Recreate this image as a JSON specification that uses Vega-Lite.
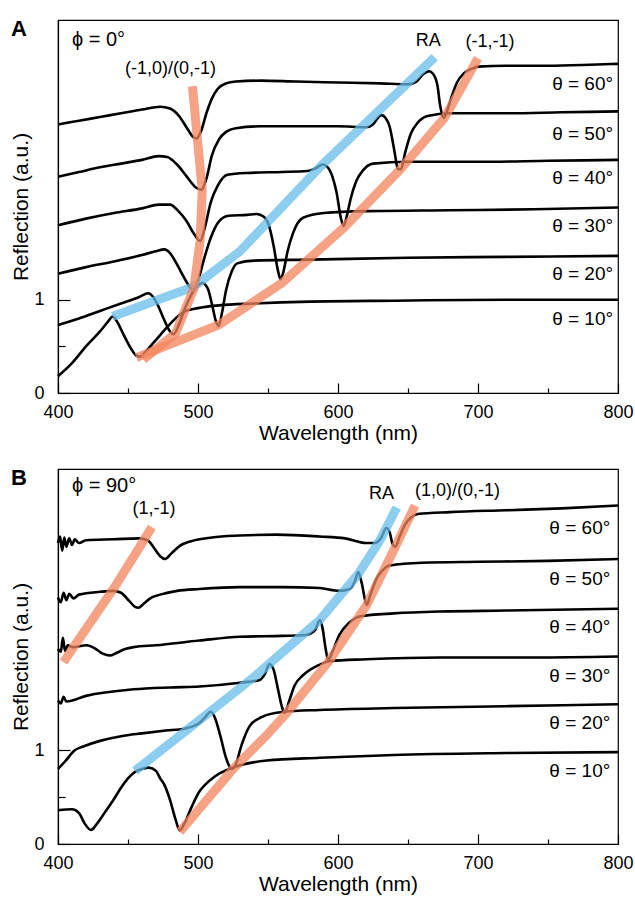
{
  "$schema": "https://vega.github.io/schema/vega-lite/v6.json",
  "padding": {"left": 10, "top": 17, "right": 0, "bottom": 0},
  "spacing": 22,
  "config": {
    "font": "Liberation Sans",
    "view": {"stroke": "black", "strokeWidth": 1.2},
    "axis": {"grid": false, "domainColor": "black", "domainWidth": 1.2, "tickColor": "black", "tickWidth": 1.2, "labelColor": "black", "titleColor": "black", "labelFontSize": 18, "titleFontSize": 21, "titleFontWeight": "normal", "labelFlush": false, "labelFont": "Liberation Sans", "titleFont": "Liberation Sans"},
    "title": {"fontSize": 22, "fontWeight": "bold", "anchor": "start", "frame": "bounds", "color": "black"}
  },
  "datasets": {
    "specA": [
      {"t":60,"w":400,"r":2.88},{"t":60,"w":415,"r":2.92},{"t":60,"w":430,"r":2.96},{"t":60,"w":445,"r":3.0},{"t":60,"w":460,"r":3.04},{"t":60,"w":473,"r":3.07},{"t":60,"w":480,"r":3.05},{"t":60,"w":487,"r":2.96},{"t":60,"w":493,"r":2.82},{"t":60,"w":497,"r":2.74},{"t":60,"w":499,"r":2.73},{"t":60,"w":502,"r":2.8},{"t":60,"w":506,"r":3.0},{"t":60,"w":510,"r":3.16},{"t":60,"w":514,"r":3.26},{"t":60,"w":520,"r":3.32},{"t":60,"w":527,"r":3.34},{"t":60,"w":545,"r":3.35},{"t":60,"w":570,"r":3.34},{"t":60,"w":600,"r":3.33},{"t":60,"w":630,"r":3.32},{"t":60,"w":650,"r":3.31},{"t":60,"w":656,"r":3.34},{"t":60,"w":661,"r":3.42},{"t":60,"w":665,"r":3.45},{"t":60,"w":668,"r":3.42},{"t":60,"w":671,"r":3.3},{"t":60,"w":673,"r":3.08},{"t":60,"w":675.5,"r":2.95},{"t":60,"w":678,"r":3.03},{"t":60,"w":681,"r":3.17},{"t":60,"w":685,"r":3.33},{"t":60,"w":690,"r":3.43},{"t":60,"w":696,"r":3.48},{"t":60,"w":700,"r":3.5},{"t":60,"w":720,"r":3.51},{"t":60,"w":750,"r":3.51},{"t":60,"w":780,"r":3.52},{"t":60,"w":800,"r":3.53},
      {"t":50,"w":400,"r":2.32},{"t":50,"w":415,"r":2.37},{"t":50,"w":430,"r":2.42},{"t":50,"w":445,"r":2.46},{"t":50,"w":460,"r":2.5},{"t":50,"w":472,"r":2.54},{"t":50,"w":478,"r":2.53},{"t":50,"w":485,"r":2.45},{"t":50,"w":492,"r":2.32},{"t":50,"w":498,"r":2.21},{"t":50,"w":502.5,"r":2.18},{"t":50,"w":506,"r":2.3},{"t":50,"w":510,"r":2.55},{"t":50,"w":515,"r":2.72},{"t":50,"w":520,"r":2.8},{"t":50,"w":527,"r":2.84},{"t":50,"w":545,"r":2.86},{"t":50,"w":575,"r":2.86},{"t":50,"w":600,"r":2.86},{"t":50,"w":620,"r":2.85},{"t":50,"w":625,"r":2.88},{"t":50,"w":629,"r":2.96},{"t":50,"w":631,"r":2.98},{"t":50,"w":634,"r":2.95},{"t":50,"w":637,"r":2.85},{"t":50,"w":640,"r":2.62},{"t":50,"w":643,"r":2.4},{"t":50,"w":645,"r":2.4},{"t":50,"w":648,"r":2.58},{"t":50,"w":652,"r":2.78},{"t":50,"w":657,"r":2.9},{"t":50,"w":664,"r":2.97},{"t":50,"w":680,"r":3.0},{"t":50,"w":720,"r":3.0},{"t":50,"w":760,"r":3.01},{"t":50,"w":800,"r":3.02},
      {"t":40,"w":400,"r":1.8},{"t":40,"w":420,"r":1.87},{"t":40,"w":440,"r":1.93},{"t":40,"w":460,"r":1.98},{"t":40,"w":472,"r":2.02},{"t":40,"w":480,"r":2.02},{"t":40,"w":486,"r":1.95},{"t":40,"w":492,"r":1.84},{"t":40,"w":497,"r":1.71},{"t":40,"w":501.5,"r":1.63},{"t":40,"w":505,"r":1.78},{"t":40,"w":509,"r":2.04},{"t":40,"w":514,"r":2.22},{"t":40,"w":521,"r":2.34},{"t":40,"w":535,"r":2.36},{"t":40,"w":560,"r":2.37},{"t":40,"w":578,"r":2.38},{"t":40,"w":584,"r":2.41},{"t":40,"w":589,"r":2.45},{"t":40,"w":592,"r":2.43},{"t":40,"w":596,"r":2.32},{"t":40,"w":599,"r":2.15},{"t":40,"w":602,"r":1.88},{"t":40,"w":604,"r":1.79},{"t":40,"w":606,"r":1.88},{"t":40,"w":609,"r":2.08},{"t":40,"w":613,"r":2.27},{"t":40,"w":618,"r":2.39},{"t":40,"w":625,"r":2.46},{"t":40,"w":650,"r":2.48},{"t":40,"w":700,"r":2.48},{"t":40,"w":750,"r":2.49},{"t":40,"w":800,"r":2.5},
      {"t":30,"w":400,"r":1.28},{"t":30,"w":420,"r":1.35},{"t":30,"w":440,"r":1.41},{"t":30,"w":460,"r":1.48},{"t":30,"w":470,"r":1.52},{"t":30,"w":476,"r":1.54},{"t":30,"w":480,"r":1.5},{"t":30,"w":485,"r":1.38},{"t":30,"w":490,"r":1.24},{"t":30,"w":494,"r":1.14},{"t":30,"w":497,"r":1.11},{"t":30,"w":500,"r":1.2},{"t":30,"w":504,"r":1.42},{"t":30,"w":509,"r":1.66},{"t":30,"w":515,"r":1.84},{"t":30,"w":522,"r":1.9},{"t":30,"w":535,"r":1.91},{"t":30,"w":542,"r":1.92},{"t":30,"w":547,"r":1.89},{"t":30,"w":551,"r":1.78},{"t":30,"w":554,"r":1.58},{"t":30,"w":557,"r":1.32},{"t":30,"w":559,"r":1.22},{"t":30,"w":561,"r":1.3},{"t":30,"w":564,"r":1.52},{"t":30,"w":568,"r":1.72},{"t":30,"w":575,"r":1.88},{"t":30,"w":590,"r":1.93},{"t":30,"w":620,"r":1.95},{"t":30,"w":680,"r":1.96},{"t":30,"w":740,"r":1.97},{"t":30,"w":800,"r":1.99},
      {"t":20,"w":400,"r":0.73},{"t":20,"w":415,"r":0.8},{"t":20,"w":430,"r":0.88},{"t":20,"w":445,"r":0.96},{"t":20,"w":458,"r":1.03},{"t":20,"w":464.5,"r":1.07},{"t":20,"w":468,"r":1.03},{"t":20,"w":472,"r":0.92},{"t":20,"w":476,"r":0.78},{"t":20,"w":480,"r":0.66},{"t":20,"w":482.5,"r":0.63},{"t":20,"w":486,"r":0.72},{"t":20,"w":491,"r":0.92},{"t":20,"w":497,"r":1.1},{"t":20,"w":503,"r":1.18},{"t":20,"w":507,"r":1.12},{"t":20,"w":510,"r":0.95},{"t":20,"w":513,"r":0.76},{"t":20,"w":514.7,"r":0.72},{"t":20,"w":517,"r":0.85},{"t":20,"w":520,"r":1.1},{"t":20,"w":524,"r":1.3},{"t":20,"w":528,"r":1.39},{"t":20,"w":540,"r":1.42},{"t":20,"w":580,"r":1.43},{"t":20,"w":650,"r":1.45},{"t":20,"w":720,"r":1.46},{"t":20,"w":800,"r":1.47},
      {"t":10,"w":400,"r":0.18},{"t":10,"w":410,"r":0.32},{"t":10,"w":420,"r":0.5},{"t":10,"w":430,"r":0.66},{"t":10,"w":436,"r":0.77},{"t":10,"w":439,"r":0.82},{"t":10,"w":442,"r":0.77},{"t":10,"w":447,"r":0.62},{"t":10,"w":452,"r":0.48},{"t":10,"w":456,"r":0.4},{"t":10,"w":459,"r":0.39},{"t":10,"w":463,"r":0.45},{"t":10,"w":470,"r":0.57},{"t":10,"w":477,"r":0.69},{"t":10,"w":484,"r":0.8},{"t":10,"w":490,"r":0.87},{"t":10,"w":500,"r":0.91},{"t":10,"w":515,"r":0.94},{"t":10,"w":540,"r":0.96},{"t":10,"w":580,"r":0.98},{"t":10,"w":640,"r":0.99},{"t":10,"w":720,"r":1.0},{"t":10,"w":800,"r":1.0}
    ],
    "bandsA": [
      {"b":"RA","i":1,"w":439,"r":0.82},{"b":"RA","i":2,"w":466,"r":0.97},{"b":"RA","i":3,"w":497,"r":1.14},{"b":"RA","i":4,"w":530,"r":1.52},{"b":"RA","i":5,"w":587.5,"r":2.43},{"b":"RA","i":6,"w":669,"r":3.6},
      {"b":"o1","i":1,"w":461,"r":0.36},{"b":"o1","i":2,"w":484,"r":0.64},{"b":"o1","i":3,"w":497,"r":1.12},{"b":"o1","i":4,"w":501.5,"r":1.63},{"b":"o1","i":5,"w":503,"r":2.18},{"b":"o1","i":6,"w":499.5,"r":2.74},{"b":"o1","i":7,"w":496,"r":3.29},
      {"b":"o2","i":1,"w":456,"r":0.38},{"b":"o2","i":2,"w":514.7,"r":0.73},{"b":"o2","i":3,"w":560,"r":1.18},{"b":"o2","i":4,"w":604,"r":1.77},{"b":"o2","i":5,"w":644,"r":2.39},{"b":"o2","i":6,"w":676,"r":2.95},{"b":"o2","i":7,"w":700,"r":3.59}
    ],
    "labA": [
      {"k":"phi","s":"ϕ = 0°","w":410,"r":3.79},
      {"k":"ord","s":"(-1,0)/(0,-1)","w":480.4,"r":3.47},
      {"k":"ord","s":"RA","w":664.5,"r":3.77},
      {"k":"ord","s":"(-1,-1)","w":708.6,"r":3.76},
      {"k":"th","s":"θ = 60°","w":796.5,"r":3.31},
      {"k":"th","s":"θ = 50°","w":796.5,"r":2.78},
      {"k":"th","s":"θ = 40°","w":796.5,"r":2.31},
      {"k":"th","s":"θ = 30°","w":796.5,"r":1.79},
      {"k":"th","s":"θ = 20°","w":796.5,"r":1.28},
      {"k":"th","s":"θ = 10°","w":796.5,"r":0.79}
    ],
    "specB": [
      {"t":60,"w":400,"r":3.21},{"t":60,"w":401.5,"r":3.28},{"t":60,"w":403,"r":3.13},{"t":60,"w":404.5,"r":3.27},{"t":60,"w":406,"r":3.17},{"t":60,"w":408,"r":3.26},{"t":60,"w":410,"r":3.19},{"t":60,"w":412,"r":3.25},{"t":60,"w":415,"r":3.21},{"t":60,"w":420,"r":3.24},{"t":60,"w":440,"r":3.25},{"t":60,"w":458,"r":3.26},{"t":60,"w":464,"r":3.24},{"t":60,"w":469,"r":3.15},{"t":60,"w":473,"r":3.07},{"t":60,"w":476.5,"r":3.04},{"t":60,"w":481,"r":3.1},{"t":60,"w":487,"r":3.18},{"t":60,"w":495,"r":3.23},{"t":60,"w":510,"r":3.27},{"t":60,"w":530,"r":3.29},{"t":60,"w":556,"r":3.3},{"t":60,"w":587,"r":3.28},{"t":60,"w":605,"r":3.26},{"t":60,"w":620,"r":3.21},{"t":60,"w":626,"r":3.21},{"t":60,"w":631,"r":3.27},{"t":60,"w":634.5,"r":3.37},{"t":60,"w":637,"r":3.32},{"t":60,"w":639,"r":3.2},{"t":60,"w":641,"r":3.17},{"t":60,"w":644,"r":3.28},{"t":60,"w":648,"r":3.41},{"t":60,"w":652,"r":3.48},{"t":60,"w":657,"r":3.52},{"t":60,"w":680,"r":3.54},{"t":60,"w":720,"r":3.56},{"t":60,"w":760,"r":3.58},{"t":60,"w":800,"r":3.61},
      {"t":50,"w":400,"r":2.63},{"t":50,"w":402,"r":2.58},{"t":50,"w":404,"r":2.68},{"t":50,"w":406,"r":2.6},{"t":50,"w":408,"r":2.67},{"t":50,"w":411,"r":2.62},{"t":50,"w":415,"r":2.66},{"t":50,"w":430,"r":2.69},{"t":50,"w":439.5,"r":2.7},{"t":50,"w":445,"r":2.68},{"t":50,"w":451,"r":2.59},{"t":50,"w":455,"r":2.53},{"t":50,"w":457.5,"r":2.52},{"t":50,"w":461,"r":2.56},{"t":50,"w":467,"r":2.63},{"t":50,"w":473,"r":2.66},{"t":50,"w":485,"r":2.7},{"t":50,"w":501,"r":2.72},{"t":50,"w":530,"r":2.74},{"t":50,"w":560,"r":2.74},{"t":50,"w":587,"r":2.73},{"t":50,"w":601,"r":2.7},{"t":50,"w":608.5,"r":2.72},{"t":50,"w":612,"r":2.8},{"t":50,"w":614.5,"r":2.9},{"t":50,"w":617,"r":2.78},{"t":50,"w":620.5,"r":2.55},{"t":50,"w":623,"r":2.65},{"t":50,"w":627.5,"r":2.83},{"t":50,"w":632,"r":2.92},{"t":50,"w":637,"r":2.97},{"t":50,"w":660,"r":3.0},{"t":50,"w":700,"r":3.01},{"t":50,"w":750,"r":3.02},{"t":50,"w":800,"r":3.04},
      {"t":40,"w":400,"r":2.08},{"t":40,"w":402,"r":2.05},{"t":40,"w":403.5,"r":2.2},{"t":40,"w":405,"r":2.06},{"t":40,"w":407,"r":2.12},{"t":40,"w":410,"r":2.1},{"t":40,"w":420.5,"r":2.12},{"t":40,"w":427,"r":2.08},{"t":40,"w":432,"r":2.03},{"t":40,"w":437,"r":2.01},{"t":40,"w":442,"r":2.04},{"t":40,"w":448,"r":2.08},{"t":40,"w":454,"r":2.1},{"t":40,"w":470,"r":2.12},{"t":40,"w":501,"r":2.17},{"t":40,"w":530,"r":2.21},{"t":40,"w":560,"r":2.22},{"t":40,"w":577,"r":2.23},{"t":40,"w":583.5,"r":2.28},{"t":40,"w":587,"r":2.39},{"t":40,"w":589,"r":2.3},{"t":40,"w":591,"r":2.1},{"t":40,"w":593,"r":1.96},{"t":40,"w":596,"r":2.05},{"t":40,"w":601,"r":2.23},{"t":40,"w":608,"r":2.36},{"t":40,"w":616,"r":2.43},{"t":40,"w":640,"r":2.46},{"t":40,"w":673,"r":2.48},{"t":40,"w":720,"r":2.49},{"t":40,"w":800,"r":2.51},
      {"t":30,"w":400,"r":1.53},{"t":30,"w":402,"r":1.5},{"t":30,"w":404,"r":1.57},{"t":30,"w":406,"r":1.52},{"t":30,"w":420,"r":1.58},{"t":30,"w":454,"r":1.65},{"t":30,"w":480,"r":1.67},{"t":30,"w":501,"r":1.68},{"t":30,"w":530,"r":1.72},{"t":30,"w":544,"r":1.75},{"t":30,"w":548,"r":1.82},{"t":30,"w":551,"r":1.92},{"t":30,"w":554,"r":1.86},{"t":30,"w":557,"r":1.66},{"t":30,"w":560,"r":1.46},{"t":30,"w":562,"r":1.4},{"t":30,"w":565,"r":1.52},{"t":30,"w":569,"r":1.69},{"t":30,"w":575,"r":1.8},{"t":30,"w":585,"r":1.9},{"t":30,"w":594,"r":1.95},{"t":30,"w":620,"r":1.97},{"t":30,"w":673,"r":1.99},{"t":30,"w":740,"r":1.99},{"t":30,"w":800,"r":2.0},
      {"t":20,"w":400,"r":0.8},{"t":20,"w":405,"r":0.88},{"t":20,"w":412,"r":1.0},{"t":20,"w":418,"r":1.04},{"t":20,"w":430,"r":1.1},{"t":20,"w":445,"r":1.15},{"t":20,"w":460,"r":1.18},{"t":20,"w":477,"r":1.21},{"t":20,"w":490,"r":1.23},{"t":20,"w":501,"r":1.29},{"t":20,"w":505,"r":1.35},{"t":20,"w":509,"r":1.41},{"t":20,"w":512,"r":1.35},{"t":20,"w":516,"r":1.15},{"t":20,"w":520,"r":0.92},{"t":20,"w":524,"r":0.8},{"t":20,"w":527,"r":0.85},{"t":20,"w":531,"r":1.05},{"t":20,"w":537,"r":1.26},{"t":20,"w":545,"r":1.35},{"t":20,"w":561,"r":1.41},{"t":20,"w":587,"r":1.43},{"t":20,"w":640,"r":1.45},{"t":20,"w":720,"r":1.47},{"t":20,"w":800,"r":1.49},
      {"t":10,"w":400,"r":0.36},{"t":10,"w":410,"r":0.37},{"t":10,"w":415,"r":0.33},{"t":10,"w":419,"r":0.22},{"t":10,"w":423.5,"r":0.15},{"t":10,"w":428,"r":0.22},{"t":10,"w":433.6,"r":0.34},{"t":10,"w":440,"r":0.48},{"t":10,"w":445,"r":0.6},{"t":10,"w":450,"r":0.7},{"t":10,"w":455,"r":0.77},{"t":10,"w":460,"r":0.8},{"t":10,"w":465,"r":0.815},{"t":10,"w":470,"r":0.78},{"t":10,"w":473,"r":0.7},{"t":10,"w":476,"r":0.63},{"t":10,"w":480,"r":0.47},{"t":10,"w":484,"r":0.26},{"t":10,"w":487,"r":0.145},{"t":10,"w":490,"r":0.21},{"t":10,"w":495,"r":0.38},{"t":10,"w":501,"r":0.56},{"t":10,"w":505,"r":0.63},{"t":10,"w":512,"r":0.72},{"t":10,"w":525,"r":0.815},{"t":10,"w":549,"r":0.89},{"t":10,"w":587,"r":0.92},{"t":10,"w":640,"r":0.95},{"t":10,"w":720,"r":0.97},{"t":10,"w":800,"r":0.98}
    ],
    "bandsB": [
      {"b":"RA","i":1,"w":455,"r":0.78},{"b":"RA","i":2,"w":500,"r":1.31},{"b":"RA","i":3,"w":540.7,"r":1.79},{"b":"RA","i":4,"w":587,"r":2.39},{"b":"RA","i":5,"w":614.5,"r":2.88},{"b":"RA","i":6,"w":630,"r":3.24},{"b":"RA","i":7,"w":642,"r":3.59},
      {"b":"o1","i":1,"w":487,"r":0.13},{"b":"o1","i":2,"w":525,"r":0.8},{"b":"o1","i":3,"w":549,"r":1.16},{"b":"o1","i":4,"w":563,"r":1.39},{"b":"o1","i":5,"w":594,"r":1.96},{"b":"o1","i":6,"w":620.5,"r":2.55},{"b":"o1","i":7,"w":641,"r":3.17},{"b":"o1","i":8,"w":655,"r":3.61},
      {"b":"o2","i":1,"w":404,"r":1.94},{"b":"o2","i":2,"w":412,"r":2.12},{"b":"o2","i":3,"w":440,"r":2.73},{"b":"o2","i":4,"w":458,"r":3.16},{"b":"o2","i":5,"w":467,"r":3.38}
    ],
    "labB": [
      {"k":"phi","s":"ϕ = 90°","w":410,"r":3.82},
      {"k":"ord","s":"(1,-1)","w":468.6,"r":3.57},
      {"k":"ord","s":"RA","w":631,"r":3.73},
      {"k":"ord","s":"(1,0)/(0,-1)","w":685.4,"r":3.77},
      {"k":"th","s":"θ = 60°","w":794.5,"r":3.37},
      {"k":"th","s":"θ = 50°","w":794.5,"r":2.83},
      {"k":"th","s":"θ = 40°","w":794.5,"r":2.32},
      {"k":"th","s":"θ = 30°","w":794.5,"r":1.79},
      {"k":"th","s":"θ = 20°","w":794.5,"r":1.29},
      {"k":"th","s":"θ = 10°","w":794.5,"r":0.78}
    ]
  },
  "vconcat": [
    {
      "width": 560, "height": 373,
      "title": {"text": "A", "offset": 0, "dy": 21},
      "layer": [
        {
          "data": {"name": "specA"},
          "mark": {"type": "line", "color": "black", "strokeWidth": 2.6, "interpolate": "monotone"},
          "encoding": {
            "x": {"field": "w", "type": "quantitative", "scale": {"domain": [400, 800]},
                  "axis": {"title": "Wavelength (nm)", "values": [400,450,500,550,600,650,700,750,800], "labelExpr": "datum.value % 100 == 0 ? datum.label : ''", "tickSize": {"condition": {"test": "datum.value % 100 != 0", "value": -5}, "value": -10}, "labelPadding": 20, "titlePadding": 1}},
            "y": {"field": "r", "type": "quantitative", "scale": {"domain": [0, 4]},
                  "axis": {"title": "Reflection (a.u.)", "values": [0, 0.5, 1], "format": "d", "labelExpr": "datum.value == 0.5 ? '' : datum.label", "tickSize": {"condition": {"test": "datum.value == 0.5", "value": -7}, "value": -12}, "labelPadding": 26, "titlePadding": 2}},
            "detail": {"field": "t"}
          }
        },
        {
          "data": {"name": "bandsA"},
          "mark": {"type": "line", "strokeWidth": 9, "opacity": 0.75, "strokeCap": "butt"},
          "encoding": {
            "x": {"field": "w", "type": "quantitative"},
            "y": {"field": "r", "type": "quantitative"},
            "color": {"field": "b", "type": "nominal", "scale": {"domain": ["RA", "o1", "o2"], "range": ["#66BCEB", "#F3845C", "#F3845C"]}, "legend": null},
            "order": {"field": "i"}
          }
        },
        {
          "data": {"name": "labA"},
          "transform": [{"filter": "datum.k == 'phi'"}],
          "mark": {"type": "text", "align": "left", "baseline": "middle", "fontSize": 20, "color": "black"},
          "encoding": {"x": {"field": "w", "type": "quantitative"}, "y": {"field": "r", "type": "quantitative"}, "text": {"field": "s"}}
        },
        {
          "data": {"name": "labA"},
          "transform": [{"filter": "datum.k == 'ord'"}],
          "mark": {"type": "text", "align": "center", "baseline": "middle", "fontSize": 18, "color": "black"},
          "encoding": {"x": {"field": "w", "type": "quantitative"}, "y": {"field": "r", "type": "quantitative"}, "text": {"field": "s"}}
        },
        {
          "data": {"name": "labA"},
          "transform": [{"filter": "datum.k == 'th'"}],
          "mark": {"type": "text", "align": "right", "baseline": "middle", "fontSize": 19, "color": "black"},
          "encoding": {"x": {"field": "w", "type": "quantitative"}, "y": {"field": "r", "type": "quantitative"}, "text": {"field": "s"}}
        }
      ]
    },
    {
      "width": 560, "height": 375,
      "title": {"text": "B", "offset": 0, "dy": 21},
      "layer": [
        {
          "data": {"name": "specB"},
          "mark": {"type": "line", "color": "black", "strokeWidth": 2.6, "interpolate": "monotone"},
          "encoding": {
            "x": {"field": "w", "type": "quantitative", "scale": {"domain": [400, 800]},
                  "axis": {"title": "Wavelength (nm)", "values": [400,450,500,550,600,650,700,750,800], "labelExpr": "datum.value % 100 == 0 ? datum.label : ''", "tickSize": {"condition": {"test": "datum.value % 100 != 0", "value": -5}, "value": -10}, "labelPadding": 20, "titlePadding": 1}},
            "y": {"field": "r", "type": "quantitative", "scale": {"domain": [0, 4]},
                  "axis": {"title": "Reflection (a.u.)", "values": [0, 0.5, 1], "format": "d", "labelExpr": "datum.value == 0.5 ? '' : datum.label", "tickSize": {"condition": {"test": "datum.value == 0.5", "value": -7}, "value": -12}, "labelPadding": 26, "titlePadding": 2}},
            "detail": {"field": "t"}
          }
        },
        {
          "data": {"name": "bandsB"},
          "mark": {"type": "line", "strokeWidth": 9, "opacity": 0.75, "strokeCap": "butt"},
          "encoding": {
            "x": {"field": "w", "type": "quantitative"},
            "y": {"field": "r", "type": "quantitative"},
            "color": {"field": "b", "type": "nominal", "scale": {"domain": ["RA", "o1", "o2"], "range": ["#66BCEB", "#F3845C", "#F3845C"]}, "legend": null},
            "order": {"field": "i"}
          }
        },
        {
          "data": {"name": "labB"},
          "transform": [{"filter": "datum.k == 'phi'"}],
          "mark": {"type": "text", "align": "left", "baseline": "middle", "fontSize": 20, "color": "black"},
          "encoding": {"x": {"field": "w", "type": "quantitative"}, "y": {"field": "r", "type": "quantitative"}, "text": {"field": "s"}}
        },
        {
          "data": {"name": "labB"},
          "transform": [{"filter": "datum.k == 'ord'"}],
          "mark": {"type": "text", "align": "center", "baseline": "middle", "fontSize": 18, "color": "black"},
          "encoding": {"x": {"field": "w", "type": "quantitative"}, "y": {"field": "r", "type": "quantitative"}, "text": {"field": "s"}}
        },
        {
          "data": {"name": "labB"},
          "transform": [{"filter": "datum.k == 'th'"}],
          "mark": {"type": "text", "align": "right", "baseline": "middle", "fontSize": 19, "color": "black"},
          "encoding": {"x": {"field": "w", "type": "quantitative"}, "y": {"field": "r", "type": "quantitative"}, "text": {"field": "s"}}
        }
      ]
    }
  ]
}
